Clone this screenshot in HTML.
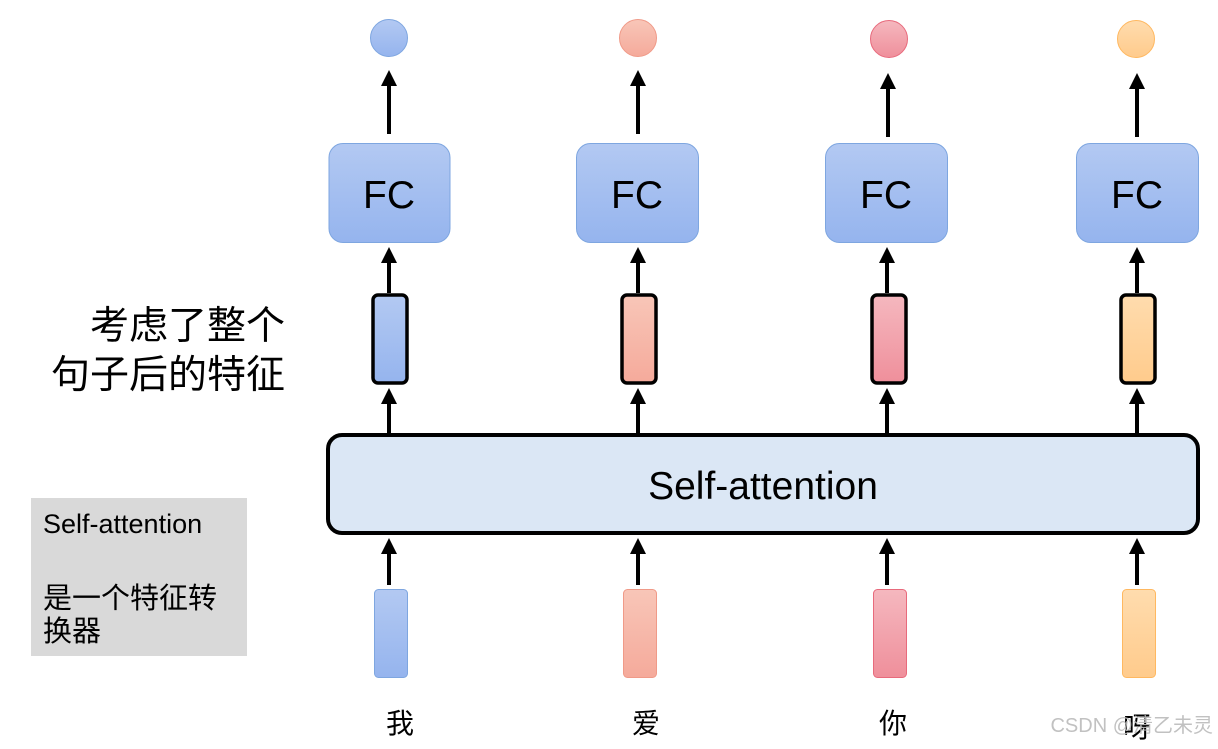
<!DOCTYPE html>
<html><head><meta charset="utf-8"><style>
body{margin:0;background:#fff;width:1218px;height:744px;overflow:hidden}
text{font-family:"Liberation Sans","Noto Sans CJK SC",sans-serif}
</style></head><body>
<svg width="1218" height="744" xmlns="http://www.w3.org/2000/svg">
<defs>
<linearGradient id="gb" x1="0" y1="0" x2="0" y2="1"><stop offset="0" stop-color="#b3c9f2"/><stop offset="1" stop-color="#95b4ee"/></linearGradient>
<linearGradient id="gs" x1="0" y1="0" x2="0" y2="1"><stop offset="0" stop-color="#f8c6b8"/><stop offset="1" stop-color="#f5aa9b"/></linearGradient>
<linearGradient id="gp" x1="0" y1="0" x2="0" y2="1"><stop offset="0" stop-color="#f5b8bf"/><stop offset="1" stop-color="#ef8f9b"/></linearGradient>
<linearGradient id="go" x1="0" y1="0" x2="0" y2="1"><stop offset="0" stop-color="#ffdcae"/><stop offset="1" stop-color="#ffcb8c"/></linearGradient>
</defs>
<circle cx="389" cy="38" r="18.5" fill="url(#gb)" stroke="#7ea6e0"/>
<circle cx="638" cy="38" r="18.5" fill="url(#gs)" stroke="#f09a88"/>
<circle cx="889" cy="39" r="18.5" fill="url(#gp)" stroke="#e86a7c"/>
<circle cx="1136" cy="39" r="18.5" fill="url(#go)" stroke="#ffb860"/>
<g stroke="#000" stroke-width="4" fill="none">
<line x1="389" y1="134" x2="389" y2="74"/><line x1="638" y1="134" x2="638" y2="74"/><line x1="888" y1="137" x2="888" y2="77"/><line x1="1137" y1="137" x2="1137" y2="77"/>
<line x1="389" y1="293" x2="389" y2="255"/><line x1="638" y1="293" x2="638" y2="255"/><line x1="887" y1="293" x2="887" y2="255"/><line x1="1137" y1="293" x2="1137" y2="255"/>
<line x1="389" y1="433" x2="389" y2="396"/><line x1="638" y1="433" x2="638" y2="396"/><line x1="887" y1="433" x2="887" y2="396"/><line x1="1137" y1="433" x2="1137" y2="396"/>
<line x1="389" y1="585" x2="389" y2="548"/><line x1="638" y1="585" x2="638" y2="548"/><line x1="887" y1="585" x2="887" y2="548"/><line x1="1137" y1="585" x2="1137" y2="548"/>
</g>
<g fill="#000">
<path d="M381,86 L389,70 L397,86z"/><path d="M630,86 L638,70 L646,86z"/><path d="M880,89 L888,73 L896,89z"/><path d="M1129,89 L1137,73 L1145,89z"/>
<path d="M381,263 L389,247 L397,263z"/><path d="M630,263 L638,247 L646,263z"/><path d="M879,263 L887,247 L895,263z"/><path d="M1129,263 L1137,247 L1145,263z"/>
<path d="M381,404 L389,388 L397,404z"/><path d="M630,404 L638,388 L646,404z"/><path d="M879,404 L887,388 L895,404z"/><path d="M1129,404 L1137,388 L1145,404z"/>
<path d="M381,554 L389,538 L397,554z"/><path d="M630,554 L638,538 L646,554z"/><path d="M879,554 L887,538 L895,554z"/><path d="M1129,554 L1137,538 L1145,554z"/>
</g>
<g stroke="#7ea6e0" fill="url(#gb)">
<rect x="329" y="143.5" width="121" height="99" rx="14"/>
<rect x="576.5" y="143.5" width="122" height="99" rx="14"/>
<rect x="825.5" y="143.5" width="122" height="99" rx="14"/>
<rect x="1076.5" y="143.5" width="122" height="99" rx="14"/>
</g>
<g font-size="39" text-anchor="middle" fill="#000">
<text x="389" y="208">FC</text><text x="637" y="208">FC</text><text x="886" y="208">FC</text><text x="1137" y="208">FC</text>
</g>
<g stroke="#000" stroke-width="3.5">
<rect x="373" y="295" width="34" height="88" rx="5" fill="url(#gb)"/>
<rect x="622" y="295" width="34" height="88" rx="5" fill="url(#gs)"/>
<rect x="872" y="295" width="34" height="88" rx="5" fill="url(#gp)"/>
<rect x="1121" y="295" width="34" height="88" rx="5" fill="url(#go)"/>
</g>
<rect x="328" y="435" width="870" height="98" rx="14" fill="#dbe7f5" stroke="#000" stroke-width="4"/>
<text x="763" y="499" font-size="39" text-anchor="middle">Self-attention</text>
<rect x="374.5" y="589.5" width="33" height="88" rx="4" fill="url(#gb)" stroke="#7ea6e0"/>
<rect x="623.5" y="589.5" width="33" height="88" rx="4" fill="url(#gs)" stroke="#f09a88"/>
<rect x="873.5" y="589.5" width="33" height="88" rx="4" fill="url(#gp)" stroke="#e86a7c"/>
<rect x="1122.5" y="589.5" width="33" height="88" rx="4" fill="url(#go)" stroke="#ffb860"/>
<g font-size="28" text-anchor="middle">
<text x="400" y="733">我</text><text x="646" y="733">爱</text><text x="893" y="733">你</text><text x="1137" y="737">呀</text>
</g>
<text x="1213" y="732" font-size="20" text-anchor="end" fill="#bbb" opacity="0.9">CSDN @清乙未灵</text>
<g font-size="39" text-anchor="end">
<text x="285" y="339">考虑了整个</text>
<text x="285" y="388">句子后的特征</text>
</g>
<rect x="31" y="498" width="216" height="158" fill="#d9d9d9"/>
<g font-size="27">
<text x="43" y="533">Self-attention</text>
<text x="43" y="608" font-size="29">是一个特征转</text>
<text x="43" y="641" font-size="29">换器</text>
</g>
</svg>
</body></html>
